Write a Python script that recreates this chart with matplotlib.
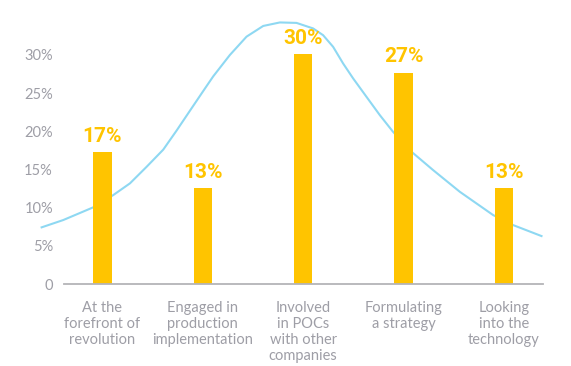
import matplotlib
matplotlib.use("Agg")
import matplotlib.pyplot as plt

categories = ["At the\nforefront of\nrevolution",
              "Engaged in\nproduction\nimplementation",
              "Involved\nin POCs\nwith other\ncompanies",
              "Formulating\na strategy",
              "Looking\ninto the\ntechnology"]
values = [17.3, 12.6, 30.1, 27.7, 12.6]
value_labels = ["17%", "13%", "30%", "27%", "13%"]

curve_x = [-0.606, -0.390, -0.092, 0.108, 0.274, 0.440, 0.606, 0.739, 0.872, 1.021,
           1.104, 1.270, 1.436, 1.602, 1.768, 1.934, 2.100, 2.199, 2.299, 2.398,
           2.498, 2.631, 2.764, 2.896, 3.080, 3.295, 3.561, 3.893, 4.092, 4.375]
curve_y = [7.42, 8.38, 10.04, 11.65, 13.18, 15.35, 17.6, 20.1, 22.7, 25.6,
           27.2, 30.0, 32.4, 33.8, 34.26, 34.20, 33.47, 32.59, 31.06, 28.89,
           26.93, 24.52, 22.12, 19.93, 17.32, 14.92, 12.08, 9.03, 7.72, 6.28]

yticks = [0, 5, 10, 15, 20, 25, 30]
ytick_labels = ["0", "5%", "10%", "15%", "20%", "25%", "30%"]

BAR = "#FFC400"
LINE = "#8ED8F2"
GRAY = "#9E9EA6"

fig = plt.figure(figsize=(5.71, 3.66), dpi=100)
ax = fig.add_axes([64/571, 82/366, (543-64)/571, 284/366])

x = list(range(len(categories)))
ax.plot(curve_x, curve_y, color=LINE, lw=1.5, clip_on=False, zorder=1,
        solid_joinstyle="round")
ax.bar(x, values, width=0.185, color=BAR, zorder=2)
for xi, v, lab in zip(x, values, value_labels):
    ax.text(xi, v + 0.8, lab, ha="center", va="bottom", color=BAR,
            fontsize=15, fontweight="bold", family="Roboto", zorder=3)

ax.set_xlim(-0.383, 4.39)
ax.set_ylim(0, 37.2)
for s in ["top", "right", "left"]:
    ax.spines[s].set_visible(False)
ax.spines["bottom"].set_color("#B4B4B8")
ax.spines["bottom"].set_linewidth(1.3)

ax.set_yticks(yticks)
ax.set_yticklabels(ytick_labels, fontsize=10.5, color=GRAY, family="Lato")
ax.set_xticks(x)
ax.set_xticklabels(categories, fontsize=10.5, color=GRAY, family="Lato",
                   linespacing=1.2)
ax.tick_params(axis="y", length=0, pad=8)
ax.tick_params(axis="x", length=0, pad=12)

fig.savefig("out.png", dpi=100)
